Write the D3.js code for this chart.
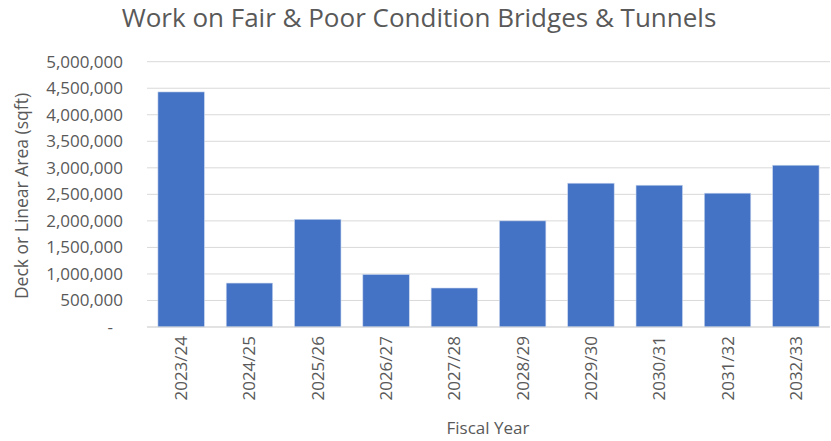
<!DOCTYPE html>
<html><head><meta charset="utf-8">
<script src="https://cdn.jsdelivr.net/npm/d3@7/dist/d3.min.js"></script>
<style>body{margin:0;background:#fff}svg{display:block}</style>
</head><body>
<svg id="c" width="831" height="441"></svg>
<script>
const categories = ["2023/24","2024/25","2025/26","2026/27","2027/28","2028/29","2029/30","2030/31","2031/32","2032/33"];
const values = [4430000, 828000, 2030000, 990000, 735000, 2000000, 2710000, 2672000, 2522000, 3049000];
const yTicks = [0,500000,1000000,1500000,2000000,2500000,3000000,3500000,4000000,4500000,5000000];
const title = "Work on Fair & Poor Condition Bridges & Tunnels";
const yTitle = "Deck or Linear Area (sqft)";
const xTitle = "Fiscal Year";

const svg = d3.select("#c");
const font = "Open Sans, sans-serif";
const m = {left:147, right:830, top:61.7, bottom:327};
const x = d3.scaleBand().domain(categories).range([m.left, m.right]).paddingInner(0.32).paddingOuter(0.16);
const y = d3.scaleLinear().domain([0,5000000]).range([m.bottom, m.top]);

// gridlines
svg.append("g").selectAll("line").data(yTicks).join("line")
  .attr("x1", m.left).attr("x2", m.right)
  .attr("y1", d=>y(d)).attr("y2", d=>y(d))
  .attr("stroke", "#d9d9d9").attr("stroke-width", 1);

// y axis labels
const yAxis = d3.axisLeft(y).tickValues(yTicks).tickSize(0).tickPadding(0)
  .tickFormat(d => d===0 ? "-" : d3.format(",")(d));
const ga = svg.append("g").attr("transform", `translate(123,0)`).call(yAxis);
ga.select(".domain").remove();
ga.selectAll("text").attr("font-family", font).attr("font-size", 17).attr("fill", "#595959");
ga.selectAll(".tick").filter(d=>d===0).select("text").attr("dx", -10);

// bars
svg.append("g").selectAll("rect").data(values).join("rect")
  .attr("x", (d,i)=>x(categories[i]))
  .attr("width", x.bandwidth())
  .attr("y", d=>y(d))
  .attr("height", d=>y(0)-y(d))
  .attr("fill", "#4472c4")
  .attr("stroke", "#c9d6ee").attr("stroke-width", 0.6);

// x axis line
svg.append("line").attr("x1", m.left).attr("x2", m.right).attr("y1", y(0)).attr("y2", y(0))
  .attr("stroke", "#d9d9d9").attr("stroke-width", 1);

// x labels
const xAxis = d3.axisBottom(x).tickSize(0).tickPadding(0);
const gx = svg.append("g").attr("transform", `translate(0,${y(0)})`).call(xAxis);
gx.select(".domain").remove();
gx.selectAll("text")
  .attr("font-family", font).attr("font-size", 17).attr("fill", "#595959")
  .attr("transform", "rotate(-90)")
  .attr("text-anchor", "end")
  .attr("x", -9).attr("y", 0).attr("dy", "0.35em");

// titles
svg.append("text").attr("x", 419).attr("y", 27).attr("text-anchor", "middle")
  .attr("font-family", font).attr("font-size", 26).attr("fill", "#595959").text(title);
svg.append("text").attr("transform", `translate(28,196) rotate(-90)`)
  .attr("text-anchor", "middle").attr("font-family", font).attr("font-size", 17.5)
  .attr("fill", "#595959").text(yTitle);
svg.append("text").attr("x", 488).attr("y", 434).attr("text-anchor", "middle")
  .attr("font-family", font).attr("font-size", 17).attr("fill", "#595959").text(xTitle);
</script>
</body></html>
